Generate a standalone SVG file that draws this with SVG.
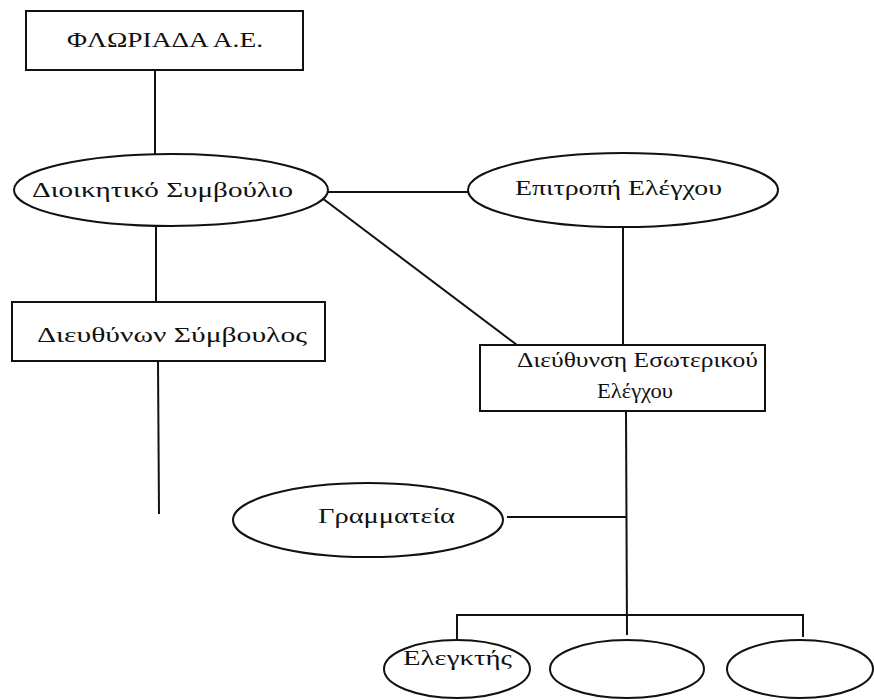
<svg xmlns="http://www.w3.org/2000/svg" width="874" height="700" viewBox="0 0 874 700">
<style>
.shape{fill:#fff;stroke:#111;stroke-width:2}
.conn line{stroke:#111;stroke-width:2}
text{font-family:"Liberation Serif","DejaVu Serif",serif;font-size:22px;fill:#111}
</style>
<rect width="874" height="700" fill="#fff"/>
<g id="connectors" class="conn">
<line x1="155" y1="70" x2="155" y2="154"/>
<line x1="156" y1="227" x2="156" y2="302"/>
<line x1="158" y1="361" x2="159" y2="514"/>
<line x1="326" y1="192" x2="468" y2="192"/>
<line x1="322" y1="198" x2="517" y2="345"/>
<line x1="623" y1="227" x2="623" y2="345"/>
<line x1="626" y1="411" x2="627" y2="635"/>
<line x1="507" y1="517" x2="626" y2="517"/>
<line x1="457" y1="615" x2="803" y2="615"/>
<line x1="457" y1="614" x2="457" y2="640"/>
<line x1="803" y1="614" x2="803" y2="637"/>
</g>
<g id="florida">
<rect class="shape" x="26" y="11" width="277" height="59"/>
<text x="67" y="47" textLength="196" lengthAdjust="spacingAndGlyphs">ΦΛΩΡΙΑΔΑ Α.Ε.</text>
</g>
<g id="dioikitiko">
<ellipse class="shape" cx="171" cy="190" rx="157" ry="36"/>
<text x="32" y="197" textLength="261" lengthAdjust="spacingAndGlyphs">Διοικητικό Συμβούλιο</text>
</g>
<g id="epitropi">
<ellipse class="shape" cx="623" cy="190" rx="155" ry="37"/>
<text x="515" y="195" textLength="207" lengthAdjust="spacingAndGlyphs">Επιτροπή Ελέγχου</text>
</g>
<g id="dieuthynon">
<rect class="shape" x="12" y="302" width="313" height="59"/>
<text x="37" y="342" textLength="270" lengthAdjust="spacingAndGlyphs">Διευθύνων Σύμβουλος</text>
</g>
<g id="dieuthynsi">
<rect class="shape" x="480" y="345" width="285" height="66"/>
<text x="517" y="367" textLength="241" lengthAdjust="spacingAndGlyphs">Διεύθυνση Εσωτερικού</text>
<text x="597" y="398" textLength="76" lengthAdjust="spacingAndGlyphs">Ελέγχου</text>
</g>
<g id="grammateia">
<ellipse class="shape" cx="368" cy="520" rx="135" ry="37"/>
<text x="318" y="523" textLength="137" lengthAdjust="spacingAndGlyphs">Γραμματεία</text>
</g>
<g id="elegktis">
<ellipse class="shape" cx="457" cy="669" rx="73" ry="29"/>
<text x="403" y="665" textLength="109" lengthAdjust="spacingAndGlyphs">Ελεγκτής</text>
</g>
<g id="empty1">
<ellipse class="shape" cx="627" cy="669" rx="77" ry="29"/>
</g>
<g id="empty2">
<ellipse class="shape" cx="800" cy="669" rx="73" ry="29"/>
</g>
</svg>
